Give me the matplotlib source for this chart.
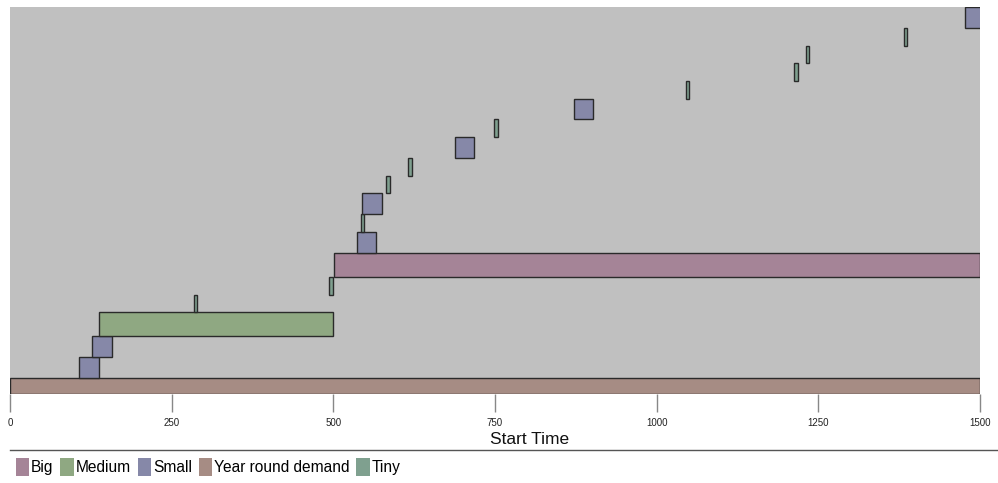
import matplotlib
matplotlib.use("Agg")
import matplotlib.pyplot as plt
from matplotlib.patches import Patch
import numpy as np

# ---- data (stacked from bottom to top) ----
categories = ["Year round demand", "Small", "Small", "Medium", "Tiny", "Tiny", "Big",
              "Small", "Tiny", "Small", "Tiny", "Tiny", "Small", "Tiny", "Small",
              "Tiny", "Tiny", "Tiny", "Tiny", "Small"]
starts = [0, 107, 127, 137, 284, 494, 501,
          536, 543, 545, 582, 616, 688, 749, 872,
          1045, 1213, 1231, 1382, 1477]
durations = [1500, 30, 30, 363, 5, 5, 999,
             30, 5, 30, 5, 5, 30, 5, 30,
             5, 5, 5, 5, 30]
size_by_category = {"Year round demand": 16.4, "Small": 20.8, "Medium": 23.4,
                    "Big": 24.2, "Tiny": 17.6}
legend_order = ["Big", "Medium", "Small", "Year round demand", "Tiny"]
colors = {"Big": "#a58497", "Medium": "#8fa882", "Small": "#8688a8",
          "Year round demand": "#a68c84", "Tiny": "#7fa08f"}
xticks = [0, 250, 500, 750, 1000, 1250, 1500]

FONT = ["Liberation Sans Narrow", "Liberation Sans", "DejaVu Sans"]

heights = np.array([size_by_category[c] for c in categories])
bottoms = np.concatenate([[0], np.cumsum(heights)[:-1]])
total = heights.sum()

W, H = 998, 483
fig = plt.figure(figsize=(W / 100, H / 100), dpi=100)
ax = fig.add_axes([10 / W, 89 / H, 970 / W, 387 / H])
ax.set_facecolor("#c0c0c0")

for c, s, d, b, h in zip(categories, starts, durations, bottoms, heights):
    ax.barh(b, d, left=s, height=h, align="edge", color=colors[c],
            edgecolor="#2a2a2a", linewidth=1.0)

ax.set_xlim(0, 1500)
ax.set_ylim(0, total)
ax.set_yticks([])
for sp in ax.spines.values():
    sp.set_visible(False)

ax.set_xticks(xticks)
ax.set_xticklabels([str(t) for t in xticks], fontdict={"family": FONT},
                   fontsize=7, color="#222222")
ax.tick_params(axis="x", length=13, width=1, color="#888888", pad=4)

# x-axis title
fig.text(530 / W, 1 - 439 / H, "Start Time", ha="center", va="center",
         fontsize=12.5, family=FONT, color="#111111")

# separator line above legend
fig.add_artist(plt.Line2D([10 / W, 1.0], [1 - 450 / H, 1 - 450 / H],
                          color="#555555", linewidth=1))

handles = [Patch(facecolor=colors[c], edgecolor="none") for c in legend_order]
leg = fig.legend(handles, legend_order, loc="center left",
                 bbox_to_anchor=(16 / W, 1 - 467 / H), ncol=5, frameon=False,
                 handlelength=0.85, handleheight=1.5, handletextpad=0.12,
                 columnspacing=0.45, borderaxespad=0, borderpad=0,
                 prop={"family": FONT, "size": 11.2})

fig.savefig("out.png", dpi=100)
